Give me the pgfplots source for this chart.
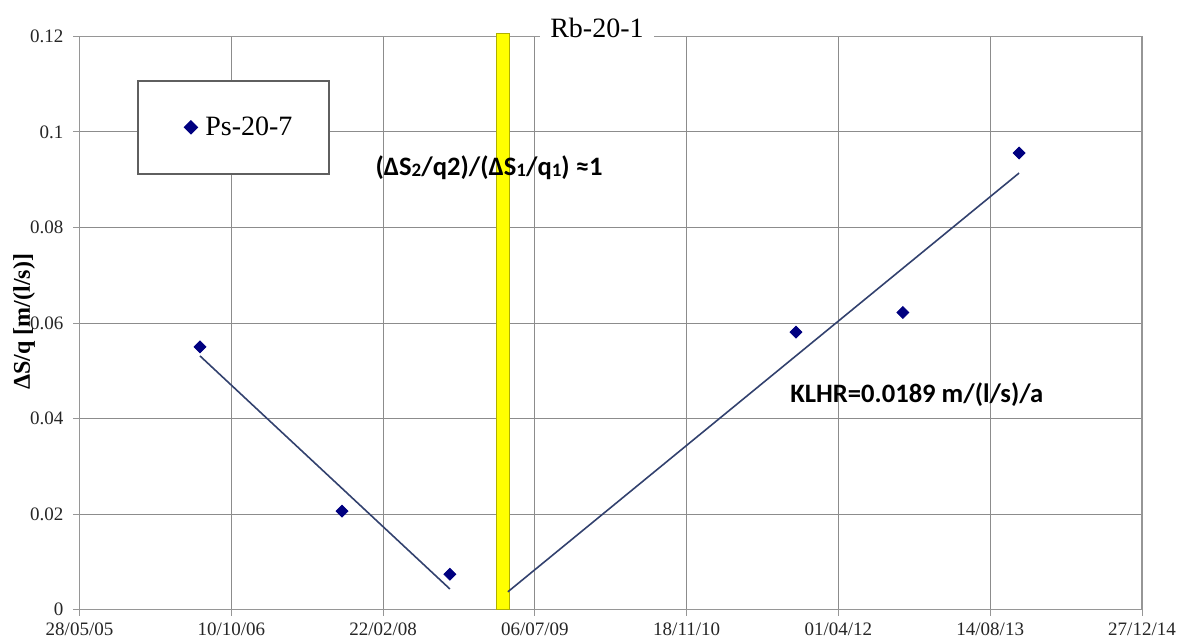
\documentclass[border=0pt]{standalone}
\usepackage{fontspec}
\setmainfont{Liberation Serif}
\newfontfamily\calibri{Carlito}
\usepackage{pgfplots}
\pgfplotsset{compat=1.18}

\definecolor{navymark}{RGB}{0,0,128}
\definecolor{trendline}{RGB}{50,65,110}
\definecolor{gridgray}{RGB}{140,140,140}
\definecolor{axisgray}{RGB}{150,150,150}
\definecolor{barfill}{RGB}{255,255,0}
\definecolor{baredge}{RGB}{175,175,0}
\definecolor{legendedge}{RGB}{95,95,95}

% small index digits in the annotation
\newcommand\idx[1]{\raisebox{-0.6pt}{\fontsize{9.5}{10}\selectfont #1}}

\begin{document}
\begin{tikzpicture}
\useasboundingbox (0,0) rectangle (590.5pt,321.5pt);
\begin{axis}[
  at={(39.75pt,16.75pt)}, anchor=origin,
  scale only axis, width=531.25pt, height=286.5pt,
  xmin=0, xmax=3500, ymin=0, ymax=0.12,
  xtick={0,500,1000,1500,2000,2500,3000,3500},
  xticklabels={28/05/05,10/10/06,22/02/08,06/07/09,18/11/10,01/04/12,14/08/13,27/12/14},
  ytick={0,0.02,0.04,0.06,0.08,0.1,0.12},
  yticklabels={0,0.02,0.04,0.06,0.08,0.1,0.12},
  xtick pos=bottom, ytick pos=left,
  tick align=outside, major tick length=3pt,
  grid=major,
  major grid style={gridgray, line width=0.5pt},
  axis line style={axisgray, line width=0.6pt},
  tick style={axisgray, line width=0.5pt},
  ticklabel style={font=\fontsize{9.5}{11}\selectfont, text=black!85},
  yticklabel style={xshift=-1.5pt},
  /pgf/number format/assume math mode=true,
  clip=false,
  every axis title shift=0pt,
  title={Rb-20-1},
  title style={at={(0.487,1)}, anchor=base, yshift=-0.5pt, fill=white,
    font=\fontsize{14}{16}\selectfont, inner xsep=5pt, inner ysep=1.5pt},
  ylabel={ΔS/q [m/(l/s)]},
  ylabel style={at={(axis description cs:-0.0522,0.502)}, anchor=center,
    font=\bfseries\fontsize{12}{14}\selectfont},
  legend style={at={(0.0541,0.924)}, anchor=north west,
    draw=legendedge, line width=1pt, fill=white,
    inner xsep=16.5pt, inner ysep=15.75pt,
    nodes={inner sep=2pt},
    font=\fontsize{14}{16}\selectfont},
  legend image code/.code={%
    \draw[#1] plot coordinates {(0pt,0pt)};
    \path (-9.5pt,0pt) (4.7pt,0pt);
  },
]
% pumping-test separator
\addplot[fill=barfill, draw=baredge, line width=0.5pt, forget plot]
  coordinates {(1372,0) (1372,0.1207) (1415,0.1207) (1415,0)} -- cycle;

% trend lines before and after the separator
\addplot[trendline, line width=0.8pt, forget plot]
  coordinates {(397,0.0531) (1220,0.0043)};
\addplot[trendline, line width=0.8pt, forget plot]
  coordinates {(1411,0.0037) (3095,0.0914)};

% observations
\addplot[only marks, mark=square*, mark size=2.1pt,
  mark options={rotate=45, fill=navymark, draw=navymark}]
  coordinates {
    (397,0.0550)
    (865,0.0206)
    (1220,0.0074)
    (2360,0.0581)
    (2712,0.0622)
    (3095,0.0956)
  };
\addlegendentry{Ps-20-7}

\node[font=\calibri\bfseries\fontsize{13.3}{15}\selectfont]
  at (rel axis cs:0.3854,0.7705)
  {(ΔS\idx{2}/q2)/(ΔS\idx{1}/q\idx{1}) ≈1};
\node[font=\calibri\bfseries\fontsize{13.3}{15}\selectfont]
  at (rel axis cs:0.788,0.3743)
  {KLHR=0.0189 m/(l/s)/a};
\end{axis}
\end{tikzpicture}
\end{document}
